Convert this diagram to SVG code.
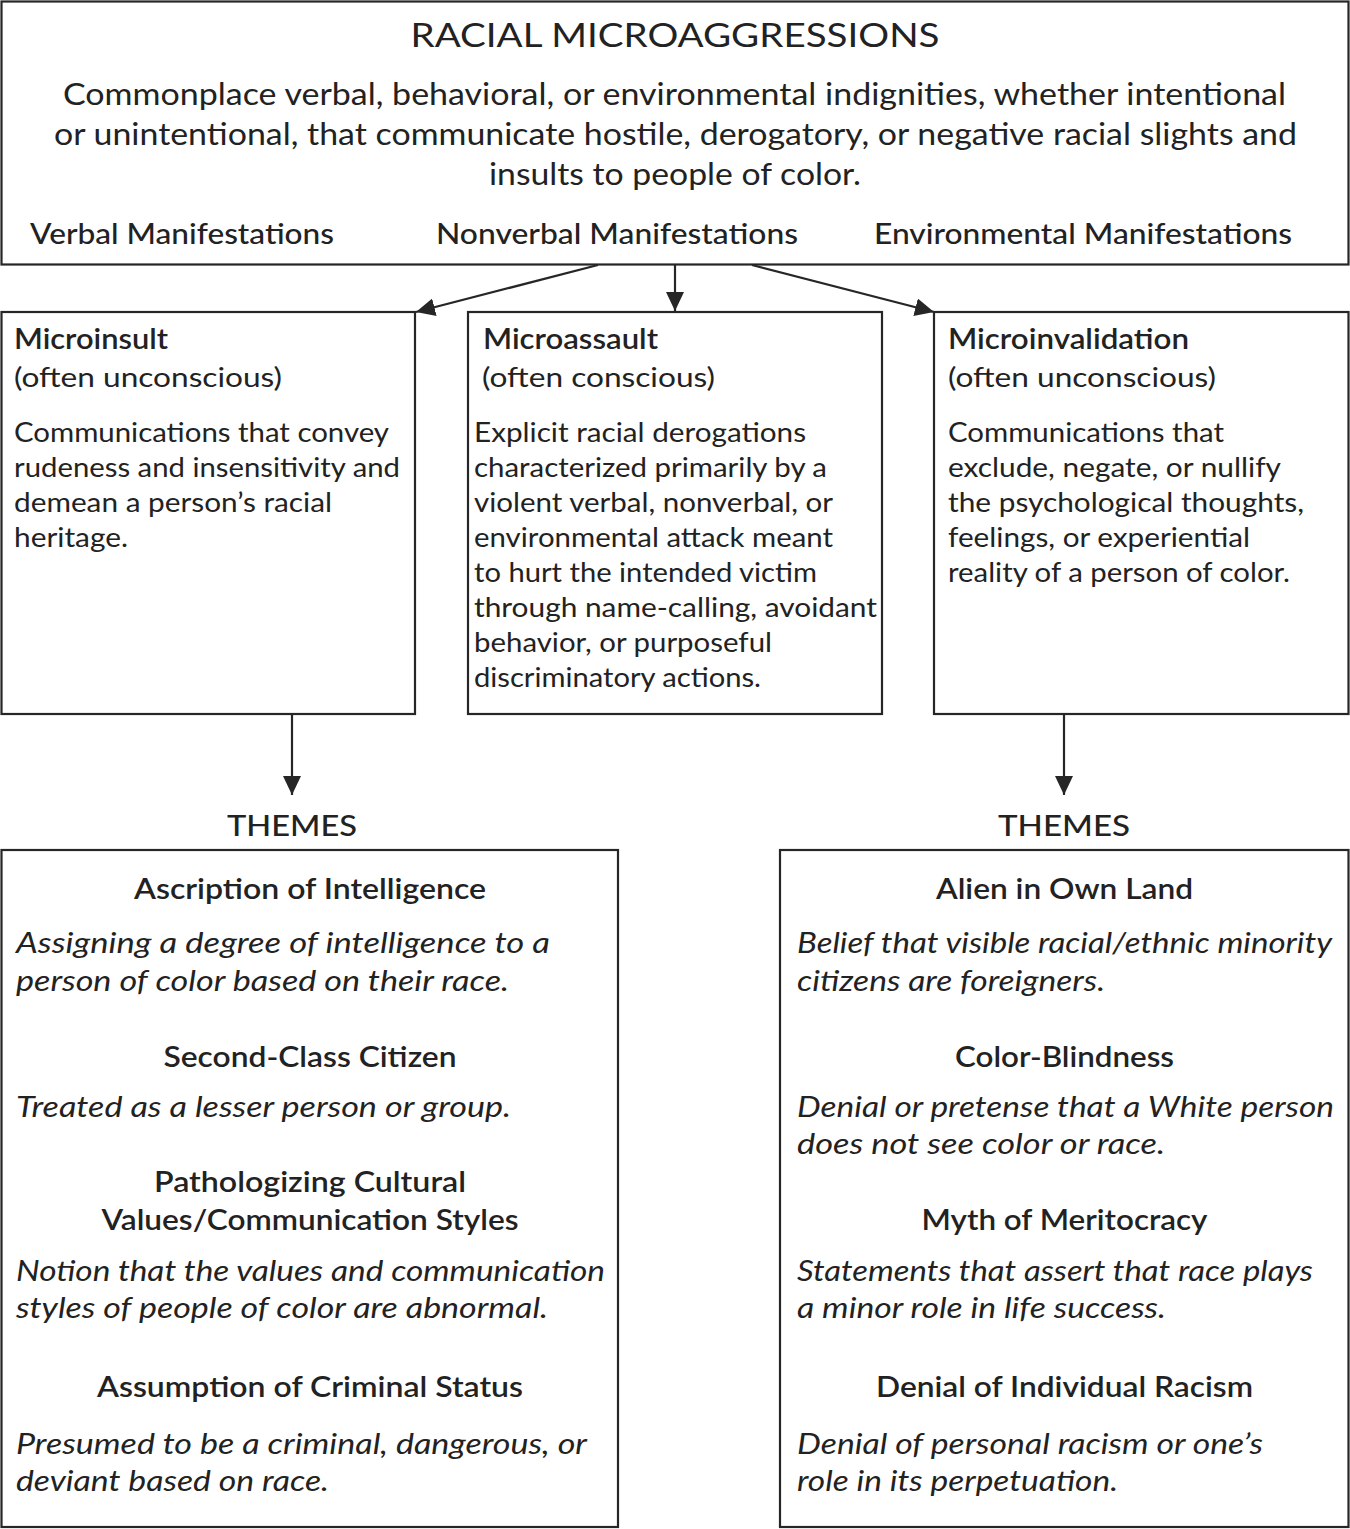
<svg xmlns="http://www.w3.org/2000/svg" width="1350" height="1529" viewBox="0 0 1350 1529">
<style>
  text { font-family: Lato, "Noto Sans", "Liberation Sans", sans-serif; fill: #222; }
  .box { fill: #fff; stroke: #262626; stroke-width: 2.2; }
  .conn { stroke: #262626; stroke-width: 2.2; fill: none; }
  .title { font-size: 33px; }
  .intro { font-size: 30px; }
  .man { font-size: 28px; font-weight: 500; }
  .head { font-size: 28px; font-weight: 600; }
  .sub { font-size: 27px; }
  .body { font-size: 27px; }
  .th { font-size: 29px; font-weight: 500; }
  .it { font-size: 28px; font-style: italic; }
  .c { text-anchor: middle; }
</style>
<defs>
  <marker id="arr" markerUnits="userSpaceOnUse" markerWidth="20" markerHeight="18" refX="19" refY="9" orient="auto">
    <path d="M0,0 L19,9 L0,18 z" fill="#262626"/>
  </marker>
</defs>
<rect width="1350" height="1529" fill="#fff"/>

<g id="node-racial-microaggressions">
  <rect class="box" x="1.5" y="1.5" width="1347" height="263"/>
  <text class="title c" x="675" y="47" textLength="529" lengthAdjust="spacingAndGlyphs">RACIAL MICROAGGRESSIONS</text>
  <text class="intro" x="63" y="105" textLength="1223" lengthAdjust="spacingAndGlyphs">Commonplace verbal, behavioral, or environmental indignities, whether intentional</text>
  <text class="intro" x="54" y="145" textLength="1243" lengthAdjust="spacingAndGlyphs">or unintentional, that communicate hostile, derogatory, or negative racial slights and</text>
  <text class="intro" x="489" y="185" textLength="372" lengthAdjust="spacingAndGlyphs">insults to people of color.</text>
  <text class="man" x="30" y="244" textLength="304" lengthAdjust="spacingAndGlyphs">Verbal Manifestations</text>
  <text class="man" x="436" y="244" textLength="362" lengthAdjust="spacingAndGlyphs">Nonverbal Manifestations</text>
  <text class="man" x="874" y="244" textLength="418" lengthAdjust="spacingAndGlyphs">Environmental Manifestations</text>
</g>

<g id="connectors">
  <line class="conn" x1="598" y1="265" x2="416" y2="312" marker-end="url(#arr)"/>
  <line class="conn" x1="675" y1="265" x2="675" y2="311" marker-end="url(#arr)"/>
  <line class="conn" x1="752" y1="265" x2="934" y2="312" marker-end="url(#arr)"/>
  <line class="conn" x1="292" y1="714" x2="292" y2="795" marker-end="url(#arr)"/>
  <line class="conn" x1="1064" y1="714" x2="1064" y2="795" marker-end="url(#arr)"/>
</g>

<g id="node-microinsult">
  <rect class="box" x="1.5" y="312" width="413.5" height="402"/>
  <text class="head" x="14" y="349" textLength="154" lengthAdjust="spacingAndGlyphs">Microinsult</text>
  <text class="sub" x="14" y="387" textLength="268" lengthAdjust="spacingAndGlyphs">(often unconscious)</text>
  <text class="body" x="14" y="442" textLength="375" lengthAdjust="spacingAndGlyphs">Communications that convey</text>
  <text class="body" x="14" y="477" textLength="386" lengthAdjust="spacingAndGlyphs">rudeness and insensitivity and</text>
  <text class="body" x="14" y="512" textLength="318" lengthAdjust="spacingAndGlyphs">demean a person’s racial</text>
  <text class="body" x="14" y="547" textLength="114" lengthAdjust="spacingAndGlyphs">heritage.</text>
</g>

<g id="node-microassault">
  <rect class="box" x="468" y="312" width="414" height="402"/>
  <text class="head" x="483" y="349" textLength="175" lengthAdjust="spacingAndGlyphs">Microassault</text>
  <text class="sub" x="482" y="387" textLength="233" lengthAdjust="spacingAndGlyphs">(often conscious)</text>
  <text class="body" x="474" y="442" textLength="332" lengthAdjust="spacingAndGlyphs">Explicit racial derogations</text>
  <text class="body" x="474" y="477" textLength="353" lengthAdjust="spacingAndGlyphs">characterized primarily by a</text>
  <text class="body" x="474" y="512" textLength="359" lengthAdjust="spacingAndGlyphs">violent verbal, nonverbal, or</text>
  <text class="body" x="474" y="547" textLength="359" lengthAdjust="spacingAndGlyphs">environmental attack meant</text>
  <text class="body" x="474" y="582" textLength="343" lengthAdjust="spacingAndGlyphs">to hurt the intended victim</text>
  <text class="body" x="474" y="617" textLength="403" lengthAdjust="spacingAndGlyphs">through name-calling, avoidant</text>
  <text class="body" x="474" y="652" textLength="298" lengthAdjust="spacingAndGlyphs">behavior, or purposeful</text>
  <text class="body" x="474" y="687" textLength="287" lengthAdjust="spacingAndGlyphs">discriminatory actions.</text>
</g>

<g id="node-microinvalidation">
  <rect class="box" x="934" y="312" width="414.5" height="402"/>
  <text class="head" x="948" y="349" textLength="241" lengthAdjust="spacingAndGlyphs">Microinvalidation</text>
  <text class="sub" x="948" y="387" textLength="268" lengthAdjust="spacingAndGlyphs">(often unconscious)</text>
  <text class="body" x="948" y="442" textLength="276" lengthAdjust="spacingAndGlyphs">Communications that</text>
  <text class="body" x="948" y="477" textLength="333" lengthAdjust="spacingAndGlyphs">exclude, negate, or nullify</text>
  <text class="body" x="948" y="512" textLength="356" lengthAdjust="spacingAndGlyphs">the psychological thoughts,</text>
  <text class="body" x="948" y="547" textLength="302" lengthAdjust="spacingAndGlyphs">feelings, or experiential</text>
  <text class="body" x="948" y="582" textLength="342" lengthAdjust="spacingAndGlyphs">reality of a person of color.</text>
</g>

<g id="node-themes-microinsult">
  <text class="th c" x="292" y="836" textLength="130" lengthAdjust="spacingAndGlyphs">THEMES</text>
  <rect class="box" x="1.5" y="850" width="616.5" height="677"/>
  <text class="head c" x="310" y="899" textLength="352" lengthAdjust="spacingAndGlyphs">Ascription of Intelligence</text>
  <text class="it" x="16" y="953" textLength="534" lengthAdjust="spacingAndGlyphs">Assigning a degree of intelligence to a</text>
  <text class="it" x="16" y="991" textLength="493" lengthAdjust="spacingAndGlyphs">person of color based on their race.</text>
  <text class="head c" x="310" y="1067" textLength="293" lengthAdjust="spacingAndGlyphs">Second-Class Citizen</text>
  <text class="it" x="16" y="1117" textLength="495" lengthAdjust="spacingAndGlyphs">Treated as a lesser person or group.</text>
  <text class="head c" x="310" y="1192" textLength="312" lengthAdjust="spacingAndGlyphs">Pathologizing Cultural</text>
  <text class="head c" x="310" y="1230" textLength="417" lengthAdjust="spacingAndGlyphs">Values/Communication Styles</text>
  <text class="it" x="16" y="1281" textLength="589" lengthAdjust="spacingAndGlyphs">Notion that the values and communication</text>
  <text class="it" x="16" y="1318" textLength="532" lengthAdjust="spacingAndGlyphs">styles of people of color are abnormal.</text>
  <text class="head c" x="310" y="1397" textLength="426" lengthAdjust="spacingAndGlyphs">Assumption of Criminal Status</text>
  <text class="it" x="16" y="1454" textLength="571" lengthAdjust="spacingAndGlyphs">Presumed to be a criminal, dangerous, or</text>
  <text class="it" x="16" y="1491" textLength="313" lengthAdjust="spacingAndGlyphs">deviant based on race.</text>
</g>

<g id="node-themes-microinvalidation">
  <text class="th c" x="1064" y="836" textLength="132" lengthAdjust="spacingAndGlyphs">THEMES</text>
  <rect class="box" x="780" y="850" width="568.5" height="677"/>
  <text class="head c" x="1064.5" y="899" textLength="257" lengthAdjust="spacingAndGlyphs">Alien in Own Land</text>
  <text class="it" x="797" y="953" textLength="535" lengthAdjust="spacingAndGlyphs">Belief that visible racial/ethnic minority</text>
  <text class="it" x="797" y="991" textLength="308" lengthAdjust="spacingAndGlyphs">citizens are foreigners.</text>
  <text class="head c" x="1064.5" y="1067" textLength="219" lengthAdjust="spacingAndGlyphs">Color-Blindness</text>
  <text class="it" x="797" y="1117" textLength="537" lengthAdjust="spacingAndGlyphs">Denial or pretense that a White person</text>
  <text class="it" x="797" y="1154" textLength="368" lengthAdjust="spacingAndGlyphs">does not see color or race.</text>
  <text class="head c" x="1064.5" y="1230" textLength="286" lengthAdjust="spacingAndGlyphs">Myth of Meritocracy</text>
  <text class="it" x="797" y="1281" textLength="516" lengthAdjust="spacingAndGlyphs">Statements that assert that race plays</text>
  <text class="it" x="797" y="1318" textLength="369" lengthAdjust="spacingAndGlyphs">a minor role in life success.</text>
  <text class="head c" x="1064.5" y="1397" textLength="377" lengthAdjust="spacingAndGlyphs">Denial of Individual Racism</text>
  <text class="it" x="797" y="1454" textLength="466" lengthAdjust="spacingAndGlyphs">Denial of personal racism or one’s</text>
  <text class="it" x="797" y="1491" textLength="321" lengthAdjust="spacingAndGlyphs">role in its perpetuation.</text>
</g>
</svg>
